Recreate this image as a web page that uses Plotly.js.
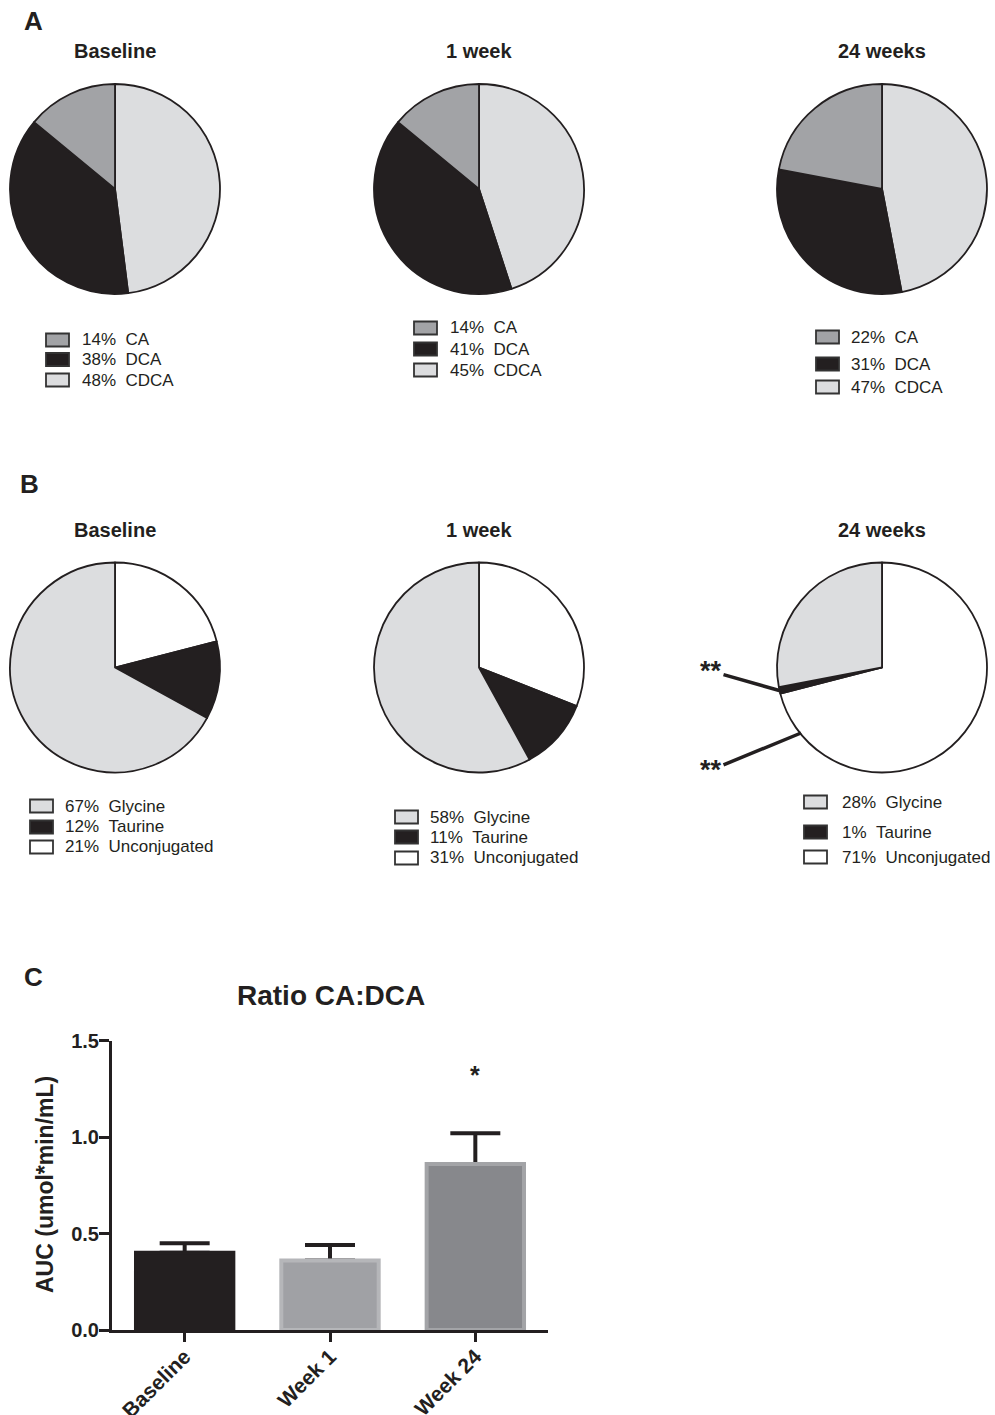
<!DOCTYPE html>
<html>
<head>
<meta charset="utf-8">
<script src="https://cdn.plot.ly/plotly-3.0.1.min.js"></script>
<style>
  html, body { margin: 0; padding: 0; background: #ffffff; }
  #chart { width: 995px; height: 1415px; }
</style>
</head>
<body>
<div id="chart"></div>
<script>
// ---------- DATA ----------
const timepoints = ['Baseline', '1 week', '24 weeks'];
const acidLabels = ['CA', 'DCA', 'CDCA'];
const acidBaseline = [14, 38, 48];
const acidWeek1 = [14, 41, 45];
const acidWeek24 = [22, 31, 47];
const conjLabels = ['Glycine', 'Taurine', 'Unconjugated'];
const conjBaseline = [67, 12, 21];
const conjWeek1 = [58, 11, 31];
const conjWeek24 = [28, 1, 71];
const barCategories = ['Baseline', 'Week 1', 'Week 24'];
const ratioMean = [0.40, 0.36, 0.86];
const ratioSEM = [0.05, 0.08, 0.16];
const ratioSEMminus = [0, 0, 0];
const yTickVals = [0, 0.5, 1.0, 1.5];
const yTickText = ['0.0', '0.5', '1.0', '1.5'];

// ---------- STYLE / LAYOUT HELPERS ----------
const W = 995, H = 1415;
const X = px => px / W;
const Y = py => 1 - py / H;
const rev = a => a.slice().reverse();
const FONT = '"Liberation Sans", Arial, Helvetica, sans-serif';
const INK = '#231f20';
const acidColors = ['#a2a3a6', '#231f20', '#dcdddf'];
const conjColors = ['#dcdddf', '#231f20', '#ffffff'];
const barFill = ['#231f20', '#a0a1a5', '#87888c'];
const barEdge = ['#231f20', '#b5b6b9', '#a3a4a7'];

const pieCx = [115, 479, 882];
const pieCyA = 189, pieCyB = 667.5, pieR = 105;

const legendA = [
  {sx: 46, tx: 82, rows: [340, 359.5, 380]},
  {sx: 414, tx: 450, rows: [328, 349, 370]},
  {sx: 816, tx: 851, rows: [337, 364, 387]}
];
const legendB = [
  {sx: 30, tx: 65, rows: [806, 827, 847]},
  {sx: 395, tx: 430, rows: [817, 837, 858]},
  {sx: 804, tx: 842, rows: [802, 832, 857]}
];

const traces = [];
const shapes = [];
const annotations = [];

// slices drawn clockwise from 12 o'clock, last legend item first
function addPie(labels, values, colors, cx, cy) {
  traces.push({
    type: 'pie',
    labels: rev(labels),
    values: rev(values),
    sort: false,
    direction: 'clockwise',
    rotation: 0,
    textinfo: 'none',
    hoverinfo: 'label+percent',
    showlegend: false,
    marker: {colors: rev(colors), line: {color: INK, width: 1.8}},
    domain: {x: [X(cx - pieR), X(cx + pieR)], y: [Y(cy + pieR), Y(cy - pieR)]}
  });
}

function addLegend(labels, values, colors, spec) {
  labels.forEach((lab, i) => {
    const cy = spec.rows[i];
    shapes.push({
      type: 'rect', xref: 'paper', yref: 'paper',
      x0: X(spec.sx), x1: X(spec.sx + 23), y0: Y(cy + 6.5), y1: Y(cy - 6.5),
      fillcolor: colors[i], line: {color: '#333333', width: 1.8}
    });
    annotations.push({
      xref: 'paper', yref: 'paper', x: X(spec.tx - 2), y: Y(cy),
      xanchor: 'left', yanchor: 'middle', showarrow: false,
      text: values[i] + '%\u00a0\u00a0' + lab,
      font: {family: FONT, size: 17, color: INK}
    });
  });
}

function addText(text, px, py, size, extra) {
  annotations.push(Object.assign({
    xref: 'paper', yref: 'paper', x: X(px), y: Y(py),
    xanchor: 'center', yanchor: 'middle', showarrow: false,
    text: text, font: {family: FONT, size: size, color: INK, weight: 'bold'}
  }, extra || {}));
}

// Panel A
const acidSets = [acidBaseline, acidWeek1, acidWeek24];
acidSets.forEach((vals, k) => {
  addPie(acidLabels, vals, acidColors, pieCx[k], pieCyA);
  addLegend(acidLabels, vals, acidColors, legendA[k]);
  addText(timepoints[k], pieCx[k], 51, 20);
});
// Panel B
const conjSets = [conjBaseline, conjWeek1, conjWeek24];
conjSets.forEach((vals, k) => {
  addPie(conjLabels, vals, conjColors, pieCx[k], pieCyB);
  addLegend(conjLabels, vals, conjColors, legendB[k]);
  addText(timepoints[k], pieCx[k], 530, 20);
});

// Panel letters
addText('A', 33, 21, 26);
addText('B', 29, 484, 26);
addText('C', 33, 977, 26);

// ** markers on 24-week conjugation pie
annotations.push({
  xref: 'paper', yref: 'paper', x: X(781), y: Y(691),
  ax: -70, ay: -20, showarrow: true, arrowhead: 0, arrowwidth: 3.5,
  arrowcolor: INK, standoff: 0, text: '**',
  font: {family: FONT, size: 27, color: INK, weight: 'bold'}
});
annotations.push({
  xref: 'paper', yref: 'paper', x: X(801), y: Y(733),
  ax: -90, ay: 37, showarrow: true, arrowhead: 0, arrowwidth: 3.5,
  arrowcolor: INK, standoff: 0, text: '**',
  font: {family: FONT, size: 27, color: INK, weight: 'bold'}
});

// Panel C: error bars (main subplot, drawn under the bars)
traces.push({
  type: 'scatter', mode: 'markers', x: barCategories, y: ratioMean,
  xaxis: 'x', yaxis: 'y', showlegend: false, hoverinfo: 'skip',
  marker: {size: 1, color: 'rgba(0,0,0,0)'},
  error_y: {type: 'data', symmetric: false, array: ratioSEM, arrayminus: ratioSEMminus,
            color: INK, thickness: 4, width: 25}
});
// bars on an overlaid subplot so they sit above the error-bar foot
traces.push({
  type: 'bar', x: barCategories, y: ratioMean, xaxis: 'x2', yaxis: 'y2',
  width: 0.67, showlegend: false,
  marker: {color: barFill, line: {color: barEdge, width: 4}}
});

annotations.push({
  xref: 'x', yref: 'y', x: 'Week 24', y: 1.32, showarrow: false,
  text: '*', font: {family: FONT, size: 25, color: INK, weight: 'bold'},
  xanchor: 'center', yanchor: 'middle'
});
// chart title and y title
addText('Ratio CA:DCA', 331, 995, 28);
addText('AUC (umol*min/mL)', 45, 1185, 23, {textangle: -90});

const xDom = [X(112), X(548)];
const yDom = [Y(1330), Y(1040.5)];

const layout = {
  width: W, height: H,
  margin: {l: 0, r: 0, t: 0, b: 0},
  paper_bgcolor: '#ffffff', plot_bgcolor: 'rgba(0,0,0,0)',
  showlegend: false,
  font: {family: FONT, color: INK},
  xaxis: {
    domain: xDom, anchor: 'y', type: 'category', range: [-0.5, 2.5],
    categoryorder: 'array', categoryarray: barCategories,
    showline: true, linewidth: 3, linecolor: INK, showgrid: false, zeroline: false,
    ticks: 'outside', ticklen: 9, tickwidth: 3, tickcolor: INK, tickangle: -45,
    ticklabelstandoff: -6,
    tickfont: {family: FONT, size: 21, color: INK, weight: 'bold'}, fixedrange: true
  },
  yaxis: {
    domain: yDom, anchor: 'x', range: [0, 1.5],
    tickvals: yTickVals, ticktext: yTickText,
    showline: true, linewidth: 3, linecolor: INK, showgrid: false, zeroline: false,
    ticks: 'outside', ticklen: 10, tickwidth: 3, tickcolor: INK,
    ticklabelstandoff: -4,
    tickfont: {family: FONT, size: 20, color: INK, weight: 'bold'}, fixedrange: true
  },
  xaxis2: {
    overlaying: 'x', anchor: 'y2', type: 'category', range: [-0.5, 2.5],
    categoryorder: 'array', categoryarray: barCategories, visible: false, fixedrange: true
  },
  yaxis2: {
    overlaying: 'y', anchor: 'x2', range: [0, 1.5], visible: false, fixedrange: true
  },
  shapes: shapes,
  annotations: annotations
};

Plotly.newPlot('chart', traces, layout, {displayModeBar: false, staticPlot: true});
</script>
</body>
</html>
